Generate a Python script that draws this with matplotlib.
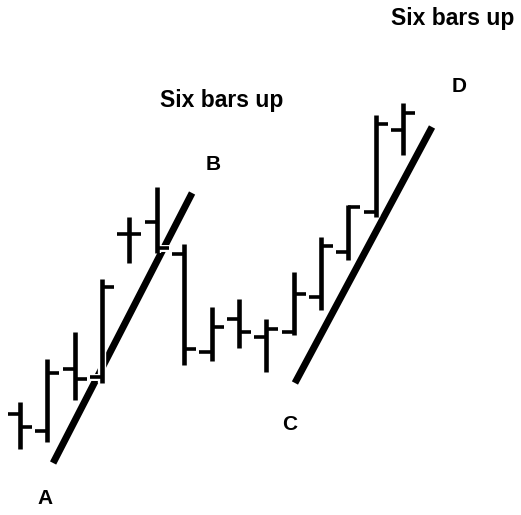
import matplotlib.pyplot as plt
import numpy as np

# OHLC bars, one per session
opens = [101, 84, 146, 138, 281, 293, 261, 163, 196, 178, 183, 218, 263, 303, 385]
highs = [113, 156, 183, 236, 298, 328, 271, 208, 216, 196, 243, 278, 310, 400, 412]
lows = [66, 73, 115, 132, 252, 262, 150, 154, 167, 143, 180, 205, 255, 298, 360]
closes = [88, 142, 136, 228, 281, 267, 166, 188, 183, 186, 221, 269, 308, 391, 402]

# trendlines drawn under the two rallies (bar index, price)
trend_ab = ([1.21, 6.29], [52, 322])
trend_cd = ([10.05, 15.06], [132, 388])

# point labels
points = ['A', 'B', 'C', 'D']
point_x = [0.91, 7.05, 9.87, 16.04]
point_y = [17, 350, 91, 429]

notes = ['Six bars up', 'Six bars up']
note_x = [7.38, 15.83]
note_y = [415, 497]

fig = plt.figure(figsize=(5.21, 5.15), dpi=100)
ax = fig.add_axes([0, 0, 1, 1])
ax.set_xlim(-0.731, 18.313)
ax.set_ylim(0, 515)
ax.axis('off')

idx = np.arange(len(opens))
tick = 0.44

ax.plot(*trend_ab, color='black', lw=5, solid_capstyle='butt', zorder=2)
ax.plot(*trend_cd, color='black', lw=5, solid_capstyle='butt', zorder=2)

# white outline under each bar so the trendlines break where they cross
for color, wv, wh, z in [('white', 6, 5, 2.5), ('black', 3.3, 2.6, 3)]:
    ax.vlines(idx, lows, highs, color=color, lw=wv, zorder=z)
    ax.hlines(opens, idx - tick, idx, color=color, lw=wh, zorder=z)
    ax.hlines(closes, idx, idx + tick, color=color, lw=wh, zorder=z)

font = dict(family=['Liberation Sans', 'DejaVu Sans'], fontweight='bold')
for label, x, y in zip(points, point_x, point_y):
    ax.text(x, y, label, ha='center', va='center', fontsize=15, **font)
for label, x, y in zip(notes, note_x, note_y):
    ax.text(x, y, label, ha='center', va='center', fontsize=16.5, **font)

fig.savefig('out.png', dpi=100, facecolor='white')
